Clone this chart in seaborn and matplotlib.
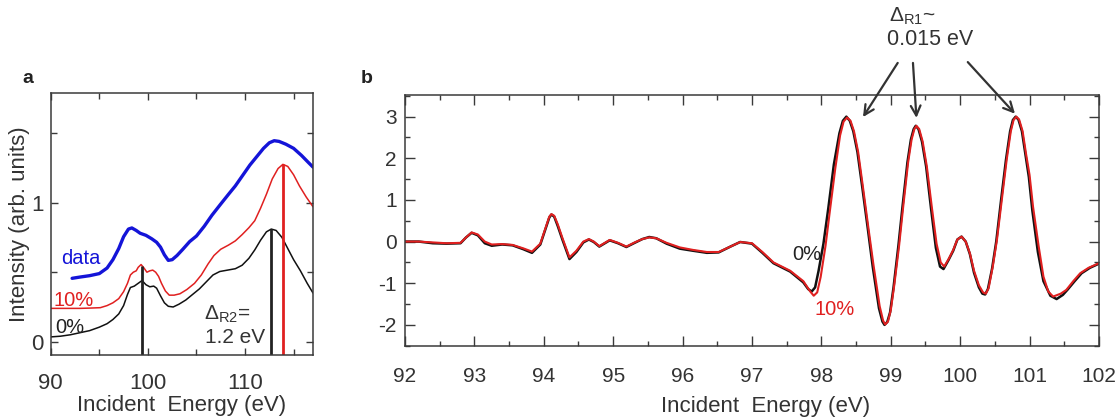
import numpy as np
import pandas as pd
import seaborn as sns
import matplotlib
matplotlib.use("Agg")
import matplotlib.pyplot as plt
from matplotlib.ticker import MultipleLocator

# ---------------- Panel a data ----------------
a_data_x = [92.2, 93.0, 94.0, 95.0, 95.8, 96.4, 97.0, 97.5, 98.0, 98.35, 98.8, 99.2, 99.8, 100.4,
            100.9, 101.3, 101.7, 102.1, 102.5, 103.0, 103.6, 104.3, 105.0, 105.8, 106.6, 107.5,
            108.3, 109.0, 109.8, 110.5, 111.2, 111.9, 112.5, 113.0, 113.5, 114.2, 115.0, 115.8,
            116.5, 117.0]
a_data_y = [0.456, 0.465, 0.475, 0.49, 0.53, 0.59, 0.67, 0.755, 0.81, 0.818, 0.80, 0.78, 0.765, 0.74,
            0.715, 0.68, 0.625, 0.585, 0.59, 0.62, 0.665, 0.72, 0.76, 0.83, 0.91, 0.99,
            1.06, 1.12, 1.20, 1.27, 1.33, 1.39, 1.43, 1.445, 1.44, 1.42, 1.39, 1.34,
            1.29, 1.255]

a_10_x = [90.0, 91.0, 92.0, 93.0, 94.0, 95.1, 95.8, 96.4, 97.0, 97.5, 97.9, 98.2, 98.5, 98.8, 99.0,
          99.3, 99.6, 99.9, 100.2, 100.5, 100.8, 101.1, 101.4, 101.8, 102.2, 102.7, 103.3, 104.0,
          104.8, 105.5, 106.2, 106.8, 107.5, 108.3, 109.0, 109.7, 110.4, 111.0, 111.6, 112.2,
          112.8, 113.4, 113.9, 114.4, 115.0, 115.6, 116.3, 117.0]
a_10_y = [0.24, 0.24, 0.24, 0.24, 0.242, 0.245, 0.26, 0.28, 0.31, 0.36, 0.42, 0.48, 0.50, 0.51, 0.535,
          0.555, 0.53, 0.50, 0.51, 0.515, 0.50, 0.47, 0.42, 0.365, 0.335, 0.335, 0.345, 0.375,
          0.42, 0.48, 0.56, 0.62, 0.665, 0.695, 0.725, 0.77, 0.82, 0.87, 0.96, 1.06,
          1.17, 1.245, 1.275, 1.26, 1.2, 1.12, 1.04, 0.97]

a_0_x = [90.0, 91.0, 92.0, 93.0, 94.0, 95.0, 95.8, 96.4, 97.0, 97.5, 97.9, 98.2, 98.6, 99.0, 99.4,
         99.8, 100.2, 100.6, 100.9, 101.3, 101.7, 102.1, 102.6, 103.2, 103.9, 104.6, 105.3, 106.0,
         106.7, 107.4, 108.2, 109.0, 109.7, 110.4, 111.0, 111.6, 112.2, 112.7, 113.2, 113.8,
         114.4, 115.0, 115.7, 116.4, 117.0]
a_0_y = [0.035, 0.04, 0.05, 0.065, 0.08, 0.105, 0.13, 0.16, 0.2, 0.26, 0.34, 0.39, 0.40, 0.42, 0.44,
         0.41, 0.395, 0.40, 0.385, 0.33, 0.28, 0.255, 0.25, 0.27, 0.30, 0.34, 0.38, 0.43,
         0.48, 0.505, 0.515, 0.525, 0.55, 0.6, 0.66, 0.73, 0.79, 0.81, 0.80, 0.75,
         0.67, 0.59, 0.51, 0.42, 0.35]

# peak markers (vertical lines) in panel a
a_peak_black_x = [99.4, 112.7]
a_peak_black_top = [0.545, 0.81]
a_peak_red_x = [113.9]
a_peak_red_top = [1.275]

# ---------------- Panel b data ----------------
b_10_x = [92.0, 92.2, 92.4, 92.6, 92.8, 92.88, 92.96, 93.05, 93.15, 93.25, 93.4, 93.55, 93.7, 93.83,
          93.95, 94.03, 94.08, 94.11, 94.15, 94.2, 94.27, 94.37, 94.47, 94.57, 94.65, 94.72, 94.8,
          94.88, 94.95, 95.07, 95.19, 95.31, 95.42, 95.52, 95.62, 95.77, 95.96, 96.15, 96.35, 96.52,
          96.69, 96.83, 97.0, 97.15, 97.31, 97.55, 97.74, 97.84, 97.89, 97.94, 97.99, 98.06, 98.12,
          98.2, 98.27, 98.32, 98.37, 98.42, 98.47, 98.53, 98.6, 98.68, 98.75, 98.84, 98.89, 98.92,
          98.96, 99.0, 99.05, 99.12, 99.18, 99.25, 99.3, 99.34, 99.37, 99.41, 99.46, 99.52, 99.59,
          99.66, 99.72, 99.77, 99.84, 99.9, 99.96, 100.02, 100.08, 100.14, 100.2, 100.27, 100.33,
          100.37, 100.41, 100.47, 100.53, 100.6, 100.67, 100.73, 100.77, 100.81, 100.85, 100.9,
          100.95, 101.0, 101.05, 101.13, 101.2, 101.27, 101.34, 101.45, 101.53, 101.63, 101.73,
          101.85, 102.0]
b_10_y = [0.0, 0.0, -0.02, -0.04, -0.03, 0.1, 0.22, 0.17, 0.0, -0.07, -0.06, -0.08, -0.16, -0.24,
          -0.05, 0.35, 0.6, 0.66, 0.62, 0.42, 0.08, -0.38, -0.22, 0.0, 0.06, 0.0, -0.11,
          -0.03, 0.04, -0.03, -0.12, -0.02, 0.06, 0.1, 0.08, -0.03, -0.14, -0.2, -0.25, -0.25,
          -0.12, -0.01, -0.04, -0.25, -0.5, -0.7, -0.95, -1.2, -1.3, -1.22, -0.85, -0.1, 0.7,
          1.75, 2.55, 2.88, 2.98, 2.9, 2.65, 2.15, 1.3, 0.3, -0.55, -1.55, -1.9, -1.99,
          -1.92, -1.65, -1.05, -0.1, 0.85, 1.9, 2.45, 2.7, 2.78, 2.7, 2.4, 1.8, 0.85,
          -0.05, -0.5, -0.6, -0.4, -0.2, 0.05, 0.12, 0.0, -0.28, -0.7, -1.05, -1.22,
          -1.25, -1.12, -0.6, 0.04, 1.0, 1.96, 2.65, 2.92, 3.0, 2.93, 2.65,
          2.1, 1.6, 0.84, -0.1, -0.84, -1.2, -1.32, -1.25, -1.16, -0.95, -0.76,
          -0.63, -0.52]

b_0_x = [92.0, 92.2, 92.4, 92.6, 92.8, 92.88, 92.96, 93.05, 93.15, 93.25, 93.4, 93.55, 93.7, 93.83,
         93.95, 94.03, 94.08, 94.11, 94.15, 94.2, 94.27, 94.37, 94.47, 94.57, 94.65, 94.72, 94.8,
         94.88, 94.95, 95.07, 95.19, 95.31, 95.42, 95.52, 95.62, 95.77, 95.96, 96.15, 96.35, 96.52,
         96.69, 96.83, 97.0, 97.15, 97.31, 97.55, 97.74, 97.81, 97.86, 97.91, 97.96, 98.03, 98.1,
         98.18, 98.26, 98.31, 98.36, 98.41, 98.46, 98.52, 98.59, 98.67, 98.74, 98.83, 98.88, 98.91,
         98.95, 98.99, 99.04, 99.11, 99.17, 99.24, 99.29, 99.33, 99.36, 99.4, 99.45, 99.51, 99.58,
         99.65, 99.71, 99.76, 99.83, 99.9, 99.96, 100.02, 100.08, 100.14, 100.2, 100.27, 100.32,
         100.36, 100.4, 100.46, 100.52, 100.59, 100.66, 100.72, 100.76, 100.8, 100.84, 100.89,
         100.94, 100.99, 101.04, 101.12, 101.2, 101.3, 101.39, 101.48, 101.55, 101.65, 101.75,
         101.87, 102.0]
b_0_y = [0.0, 0.0, -0.04, -0.05, -0.04, 0.1, 0.21, 0.15, -0.04, -0.1, -0.07, -0.09, -0.18, -0.27,
         -0.07, 0.33, 0.58, 0.65, 0.6, 0.38, 0.04, -0.42, -0.25, -0.02, 0.05, -0.01, -0.12,
         -0.04, 0.03, -0.04, -0.13, -0.03, 0.06, 0.11, 0.08, -0.05, -0.17, -0.22, -0.27, -0.26,
         -0.12, -0.01, -0.05, -0.27, -0.52, -0.72, -0.98, -1.14, -1.2, -1.1, -0.7, -0.05, 0.8,
         1.85, 2.6, 2.9, 3.0, 2.9, 2.65, 2.15, 1.3, 0.3, -0.6, -1.6, -1.92, -2.0,
         -1.93, -1.7, -1.1, -0.1, 0.85, 1.9, 2.45, 2.7, 2.78, 2.7, 2.4, 1.8, 0.8,
         -0.15, -0.6, -0.66, -0.45, -0.22, 0.05, 0.12, 0.0, -0.3, -0.75, -1.1, -1.25,
         -1.27, -1.14, -0.65, 0.0, 1.0, 1.96, 2.65, 2.92, 3.0, 2.93, 2.65,
         2.1, 1.55, 0.75, -0.25, -0.95, -1.3, -1.38, -1.28, -1.15, -0.95, -0.76,
         -0.63, -0.53]

# arrow targets (peaks) and origins for the Delta_R1 annotation
arrow_tip_x = [98.6, 99.37, 100.79]
arrow_tip_y = [2.99, 2.97, 3.07]
arrow_src_x = [99.1, 99.32, 100.11]
arrow_src_y = [4.29, 4.29, 4.31]

# ---------------- Style ----------------
sns.set_style("ticks")
plt.rcParams['font.family'] = ['Liberation Sans', 'DejaVu Sans']
plt.rcParams['mathtext.fontset'] = 'custom'
plt.rcParams['mathtext.rm'] = 'Liberation Sans'
plt.rcParams['mathtext.it'] = 'Liberation Sans:italic'
plt.rcParams['mathtext.bf'] = 'Liberation Sans:bold'
plt.rcParams['axes.unicode_minus'] = False

TXT = '#333333'
SPINE = '#3a3a3a'
BLUE = '#1414d8'
RED = '#e02020'
BLACK = '#111111'

fig = plt.figure(figsize=(11.2, 4.17), dpi=100)
ax_a = fig.add_axes([0.0453, 0.1487, 0.2342, 0.629])
ax_b = fig.add_axes([0.3616, 0.171, 0.6196, 0.6012])

def style_axes(ax, major_len, minor_len, labelsize, xpad, ypad):
    for s in ax.spines.values():
        s.set_color(SPINE)
        s.set_linewidth(1.1)
    ax.tick_params(which='both', direction='in', top=True, right=True,
                   color=SPINE, width=1.0, labelcolor=TXT, labelsize=labelsize)
    ax.tick_params(which='major', length=major_len)
    ax.tick_params(which='minor', length=minor_len)
    ax.tick_params(axis='x', which='both', pad=xpad)
    ax.tick_params(axis='y', which='both', pad=ypad)

# ---------------- Panel a ----------------
dfa_data = pd.DataFrame({'E': a_data_x, 'I': a_data_y})
dfa_10 = pd.DataFrame({'E': a_10_x, 'I': a_10_y})
dfa_0 = pd.DataFrame({'E': a_0_x, 'I': a_0_y})

ylo_a = -0.095
sns.lineplot(data=dfa_0, x='E', y='I', ax=ax_a, color=BLACK, lw=1.1, estimator=None, sort=False)
sns.lineplot(data=dfa_10, x='E', y='I', ax=ax_a, color=RED, lw=1.1, estimator=None, sort=False)
sns.lineplot(data=dfa_data, x='E', y='I', ax=ax_a, color=BLUE, lw=2.4, estimator=None, sort=False)
ax_a.vlines(a_peak_black_x, ylo_a, a_peak_black_top, color='#222222', lw=2.0)
ax_a.vlines(a_peak_red_x, ylo_a, a_peak_red_top, color=RED, lw=2.0)

ax_a.set_xlim(90, 117)
ax_a.set_ylim(ylo_a, 1.79)
ax_a.xaxis.set_major_locator(MultipleLocator(10))
ax_a.xaxis.set_minor_locator(MultipleLocator(5))
ax_a.yaxis.set_major_locator(MultipleLocator(1))
ax_a.yaxis.set_minor_locator(MultipleLocator(0.5))
style_axes(ax_a, 5, 4, 16, 13, 5)
ax_a.set_xlabel('Incident  Energy (eV)', fontsize=16, color=TXT, labelpad=1)
ax_a.set_ylabel('Intensity (arb. units)', fontsize=16, color=TXT, labelpad=1)

ax_a.text(91.1, 0.60, 'data', color=BLUE, fontsize=14.5, va='center', ha='left')
ax_a.text(90.3, 0.30, '10%', color=RED, fontsize=14.5, va='center', ha='left')
ax_a.text(90.5, 0.105, '0%', color='#222222', fontsize=14.5, va='center', ha='left')
ax_a.text(105.8, 0.20, 'Δ$_{\\rm R2}$=', color=TXT, fontsize=15, va='center', ha='left')
ax_a.text(105.9, 0.03, '1.2 eV', color=TXT, fontsize=15, va='center', ha='left')
fig.text(0.020, 0.812, 'a', fontsize=14, fontweight='bold', color='#222222', va='center')

# ---------------- Panel b ----------------
dfb_0 = pd.DataFrame({'E': b_0_x, 'D': b_0_y})
dfb_10 = pd.DataFrame({'E': b_10_x, 'D': b_10_y})
sns.lineplot(data=dfb_0, x='E', y='D', ax=ax_b, color=BLACK, lw=1.8, estimator=None, sort=False)
sns.lineplot(data=dfb_10, x='E', y='D', ax=ax_b, color=RED, lw=1.5, estimator=None, sort=False)

ax_b.set_xlim(92, 102)
ax_b.set_ylim(-2.5, 3.52)
ax_b.xaxis.set_major_locator(MultipleLocator(1))
ax_b.xaxis.set_minor_locator(MultipleLocator(0.5))
ax_b.yaxis.set_major_locator(MultipleLocator(1))
ax_b.yaxis.set_minor_locator(MultipleLocator(0.5))
style_axes(ax_b, 7, 3.6, 15, 15, 6)
ax_b.set_xlabel('Incident  Energy (eV)', fontsize=16, color=TXT, labelpad=0)
ax_b.xaxis.set_label_coords(0.519, -0.2)
ax_b.set_ylabel('')

ax_b.text(97.58, -0.3, '0%', color='#222222', fontsize=14.5, va='center', ha='left')
ax_b.text(97.9, -1.62, '10%', color=RED, fontsize=14.5, va='center', ha='left')
ax_b.text(98.98, 5.42, 'Δ$_{\\rm R1}$~', color=TXT, fontsize=15, va='center', ha='left',
          clip_on=False)
ax_b.text(98.95, 4.85, '0.015 eV', color=TXT, fontsize=15.5, va='center', ha='left',
          clip_on=False)
for tx, ty, sx, sy in zip(arrow_tip_x, arrow_tip_y, arrow_src_x, arrow_src_y):
    ax_b.annotate('', xy=(tx, ty), xytext=(sx, sy), annotation_clip=False,
                  arrowprops=dict(arrowstyle='->,head_length=0.7,head_width=0.35',
                                  color='#333333', lw=1.6, shrinkA=0, shrinkB=0))
fig.text(0.322, 0.812, 'b', fontsize=14, fontweight='bold', color='#222222', va='center')

fig.savefig('out.png', dpi=100)
